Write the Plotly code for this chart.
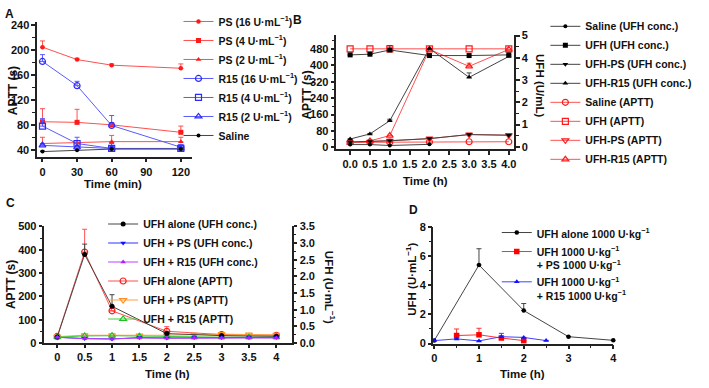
import plotly.graph_objects as go

W, H = 709, 388

def fx(p):
    return p / W

def fy(p):
    return 1 - p / H

# ---------------- Panel A ----------------
a_time = [0, 30, 60, 120]
a_ps16 = [205, 185, 176, 171]
a_ps16_err = [10, 2, 2, 7]
a_ps4 = [85, 84, 80, 68]
a_ps4_err = [21, 21, 3, 10]
a_ps2 = [50, 51, 53, 53]
a_ps2_err = [10, 3, 10, 7]
a_r15_16 = [182, 143, 79, 44]
a_r15_16_err = [11, 7, 16, 3]
a_r15_4 = [78, 50, 42, 42]
a_r15_4_err = [12, 10, 8, 6]
a_r15_2 = [47, 44, 42, 42]
a_r15_2_err = [3, 3, 3, 6]
a_saline = [37, 39, 41, 41]
a_saline_err = [1, 1, 1, 1]

# ---------------- Panel B ----------------
b_time = [0, 0.5, 1, 2, 3, 4]
b_time_sal = [0, 0.5, 1, 2]
b_sal_conc = [0.1, 0.1, 0.06, 0.11]
b_ufh_conc = [4.13, 4.16, 4.35, 4.1, 4.1, 4.13]
b_ufh_conc_err = [0, 0, 0.2, 0, 0, 0]
b_ps_conc = [0.22, 0.24, 0.27, 0.37, 0.55, 0.52]
b_ps_conc_err = [0, 0, 0, 0, 0.05, 0]
b_r15_conc = [0.35, 0.58, 1.17, 4.42, 3.12, 4.06]
b_r15_conc_err = [0, 0.02, 0.07, 0, 0.2, 0]
b_sal_aptt = [25, 25, 26, 27, 28, 28]
b_ufh_aptt = [480, 480, 480, 480, 480, 480]
b_ps_aptt = [24, 28, 32, 43, 63, 60]
b_r15_aptt = [22, 32, 58, 477, 395, 477]
b_r15_aptt_err = [0, 0, 0, 0, 15, 0]

# ---------------- Panel C ----------------
c_time = [0, 0.5, 1, 2, 3, 4]
c_time_full = [0, 0.5, 1, 1.5, 2, 2.5, 3, 3.5, 4]
c_alone_conc = [0.18, 2.66, 1.10, 0.28, 0.22, 0.2]
c_alone_conc_err = [0, 0.31, 0.35, 0.05, 0, 0]
c_ps_conc = [0.17, 0.13, 0.12, 0.16, 0.15, 0.16, 0.16, 0.16, 0.16]
c_r15_conc = [0.17, 0.13, 0.12, 0.15, 0.14, 0.15, 0.15, 0.15, 0.15]
c_alone_aptt = [28, 390, 138, 50, 36, 33]
c_alone_aptt_err = [0, 98, 0, 20, 0, 0]
c_ps_aptt = [27, 33, 33, 32, 33, 35, 38, 36, 35]
c_r15_aptt = [25, 30, 31, 29, 28, 25, 25, 25, 25]
c_xtick_vals = [0, 0.5, 1, 1.5, 2, 2.5, 3, 3.5, 4]
c_xtick_text = ["0", "0.5", "1", "1.5", "2", "2.5", "3", "3.5", "4"]

# ---------------- Panel D ----------------
d_time_alone = [0, 1, 2, 3, 4]
d_alone = [0.2, 5.4, 2.27, 0.47, 0.22]
d_alone_err = [0, 1.12, 0.48, 0, 0]
d_time_ps = [0.5, 1, 1.5, 2]
d_ps = [0.55, 0.6, 0.38, 0.2]
d_ps_err = [0.45, 0.45, 0, 0]
d_time_r15 = [0, 0.5, 1, 1.5, 2, 2.5]
d_r15 = [0.2, 0.32, 0.18, 0.47, 0.42, 0.2]
d_r15_err = [0, 0, 0, 0.23, 0, 0]

RED_L = "#ff5050"
RED_M = "#ff1a1a"
BLUE_L = "#5a5aff"
BLUE_M = "#2a2aff"
BLACK_L = "#444444"

fig = go.Figure()


def add(x, y, name, xa, ya, legend, lcolor, mcolor, symbol, size=5, err=None,
        open_=False, ecolor=None):
    if open_:
        marker = dict(symbol=symbol + "-open", size=size, color=mcolor,
                      line=dict(color=mcolor, width=1.2))
    else:
        marker = dict(symbol=symbol, size=size, color=mcolor, line=dict(width=0))
    tr = go.Scatter(x=x, y=y, name=name, mode="lines+markers", xaxis=xa, yaxis=ya,
                    legend=legend, line=dict(color=lcolor, width=1), marker=marker,
                    cliponaxis=False)
    if err is not None:
        tr.error_y = dict(type="data", array=err, arrayminus=[0] * len(err),
                          symmetric=False, color=ecolor or lcolor, thickness=1, width=2.5)
    fig.add_trace(tr)


U = "U·mL<sup>−1</sup>"
K = "U·kg<sup>−1</sup>"

# Panel A traces
add(a_time, a_ps16, f"PS (16 {U})", "x", "y", "legend", RED_L, RED_M, "circle", 4.5, a_ps16_err)
add(a_time, a_ps4, f"PS (4 {U})", "x", "y", "legend", RED_L, RED_M, "square", 5, a_ps4_err)
add(a_time, a_ps2, f"PS (2 {U})", "x", "y", "legend", RED_L, RED_M, "triangle-up", 5, a_ps2_err)
add(a_time, a_r15_16, f"R15 (16 {U})", "x", "y", "legend", BLUE_L, BLUE_M, "circle", 6, a_r15_16_err, open_=True)
add(a_time, a_r15_4, f"R15 (4 {U})", "x", "y", "legend", BLUE_L, BLUE_M, "square", 6, a_r15_4_err, open_=True)
add(a_time, a_r15_2, f"R15 (2 {U})", "x", "y", "legend", BLUE_L, BLUE_M, "triangle-up", 6, a_r15_2_err, open_=True)
add(a_time, a_saline, "Saline", "x", "y", "legend", BLACK_L, "#000000", "circle", 4, a_saline_err)

# Panel B traces
add(b_time_sal, b_sal_conc, "Saline (UFH conc.)", "x2", "y3", "legend2", BLACK_L, "#000", "circle", 4)
add(b_time, b_ufh_conc, "UFH (UFH conc.)", "x2", "y3", "legend2", BLACK_L, "#000", "square", 5, b_ufh_conc_err)
add(b_time, b_ps_conc, "UFH-PS (UFH conc.)", "x2", "y3", "legend2", BLACK_L, "#000", "triangle-down", 5, b_ps_conc_err)
add(b_time, b_r15_conc, "UFH-R15 (UFH conc.)", "x2", "y3", "legend2", BLACK_L, "#000", "triangle-up", 5, b_r15_conc_err)
add(b_time, b_sal_aptt, "Saline (APTT)", "x2", "y2", "legend2", RED_L, RED_M, "circle", 6, open_=True)
add(b_time, b_ufh_aptt, "UFH (APTT)", "x2", "y2", "legend2", RED_L, RED_M, "square", 6, open_=True)
add(b_time, b_ps_aptt, "UFH-PS (APTT)", "x2", "y2", "legend2", RED_L, RED_M, "triangle-down", 6, open_=True)
add(b_time, b_r15_aptt, "UFH-R15 (APTT)", "x2", "y2", "legend2", RED_L, RED_M, "triangle-up", 6, b_r15_aptt_err, open_=True)

# Panel C traces
add(c_time, c_alone_conc, "UFH alone (UFH conc.)", "x3", "y5", "legend3", BLACK_L, "#000", "circle", 5, c_alone_conc_err)
add(c_time_full, c_ps_conc, "UFH + PS (UFH conc.)", "x3", "y5", "legend3", "#3030ff", "#1010ff", "triangle-down", 5)
add(c_time_full, c_r15_conc, "UFH + R15 (UFH conc.)", "x3", "y5", "legend3", "#c040ff", "#b020ff", "triangle-up", 5)
add(c_time, c_alone_aptt, "UFH alone (APTT)", "x3", "y4", "legend3", RED_L, RED_M, "circle", 6, c_alone_aptt_err, open_=True)
add(c_time_full, c_ps_aptt, "UFH + PS (APTT)", "x3", "y4", "legend3", "#ffa040", "#ff9020", "triangle-down", 6, open_=True)
add(c_time_full, c_r15_aptt, "UFH + R15 (APTT)", "x3", "y4", "legend3", "#40d040", "#20c020", "triangle-up", 6, open_=True)

# Panel D traces
add(d_time_alone, d_alone, f"UFH alone 1000 {K}", "x4", "y6", "legend4", BLACK_L, "#000", "circle", 4.5, d_alone_err)
add(d_time_ps, d_ps, f"UFH 1000 {K}<br>+ PS 1000 {K}", "x4", "y6", "legend4", "#ff3030", "#ff0000", "square", 5.5, d_ps_err)
add(d_time_r15, d_r15, f"UFH 1000 {K}<br>+ R15 1000 {K}", "x4", "y6", "legend4", "#4040ff", "#1010ff", "triangle-up", 5, d_r15_err)

AX = dict(showline=True, linecolor="#222", linewidth=1.5, ticks="outside", ticklen=3.5,
          tickwidth=1.5, tickcolor="#222", showgrid=False, zeroline=False,
          ticklabeloverflow="allow",
          tickfont=dict(size=11, family="Liberation Sans", weight="bold", color="#111"))
MIN = dict(ticks="outside", ticklen=2.5, tickcolor="#222", tickwidth=1, showgrid=False)

fig.update_layout(
    width=W, height=H, margin=dict(l=0, r=0, t=0, b=0),
    paper_bgcolor="white", plot_bgcolor="rgba(0,0,0,0)",
    font=dict(family="Liberation Sans", size=11, color="#111", weight="bold"),
    xaxis=dict(AX, domain=[fx(35), fx(192)], range=[-5, 130], tickmode="linear", tick0=0, dtick=30,
               anchor="y"),
    yaxis=dict(AX, domain=[fy(156), fy(16.8)], range=[28, 245], tickmode="linear", tick0=0, dtick=40,
               minor=dict(MIN, dtick=20, tick0=0), anchor="x"),
    xaxis2=dict(AX, domain=[fx(336.7), fx(516.7)], range=[-0.36, 4.14],
                tickmode="linear", tick0=0, dtick=0.5, tickformat=".1f", anchor="y2"),
    yaxis2=dict(AX, domain=[fy(148), fy(30)], range=[-9.4, 547], tick0=0, dtick=80,
                minor=dict(MIN, dtick=40, tick0=0), anchor="x2"),
    yaxis3=dict(AX, overlaying="y2", side="right", range=[-0.117, 5.02], tick0=0, dtick=1,
                minor=dict(MIN, dtick=0.5, tick0=0), anchor="x2"),
    xaxis3=dict(AX, domain=[fx(42.3), fx(292.7)], range=[-0.243, 4.29],
                tickvals=c_xtick_vals, ticktext=c_xtick_text, anchor="y4"),
    yaxis4=dict(AX, domain=[fy(347.7), fy(227.5)], range=[0, 500], tick0=0, dtick=100,
                minor=dict(MIN, dtick=50, tick0=0), anchor="x3"),
    yaxis5=dict(AX, overlaying="y4", side="right", range=[0, 3.5], tick0=0, dtick=0.5, tickformat=".1f",
                minor=dict(MIN, dtick=0.25, tick0=0), anchor="x3"),
    xaxis4=dict(AX, domain=[fx(435), fx(616.5)], range=[-0.02, 4.0], tick0=0, dtick=1,
                minor=dict(MIN, dtick=0.5, tick0=0), anchor="y6"),
    yaxis6=dict(AX, domain=[fy(348.3), fy(228.3)], range=[0, 8], tick0=0, dtick=2,
                minor=dict(MIN, dtick=1, tick0=0), anchor="x4"),
    legend=dict(x=fx(178), y=fy(1), xanchor="left", yanchor="top", bgcolor="rgba(0,0,0,0)",
                font=dict(size=10.5), tracegroupgap=0),
    legend2=dict(x=fx(548), y=fy(6), xanchor="left", yanchor="top", bgcolor="rgba(0,0,0,0)",
                 font=dict(size=10.5), tracegroupgap=0),
    legend3=dict(x=fx(102), y=fy(210), xanchor="left", yanchor="top", bgcolor="rgba(0,0,0,0)",
                 font=dict(size=10.5), tracegroupgap=0),
    legend4=dict(x=fx(499), y=fy(220), xanchor="left", yanchor="top", bgcolor="rgba(0,0,0,0)",
                 font=dict(size=10.5), tracegroupgap=0, valign="top"),
)


def ann(text, x, y, angle=0, size=11.5):
    fig.add_annotation(text=text, x=fx(x), y=fy(y), xref="paper", yref="paper",
                       showarrow=False, textangle=angle, xanchor="center", yanchor="middle",
                       font=dict(size=size, family="Liberation Sans", weight="bold", color="#111"))


# axis titles
ann("APTT (s)", 11, 87, -90, 12)
ann("Time (min)", 112, 184)
ann("APTT (s)", 308, 92, -90, 12)
ann("UFH (U/mL)", 542, 82, 90)
ann("Time (h)", 427, 181)
ann("APTT (s)", 9, 287, -90, 12)
ann(f"UFH ({U})", 331, 290, 90)
ann("Time (h)", 167, 380)
ann(f"UFH ({U})", 413, 282, -90)
ann("Time (h)", 525, 380)

# panel letters
ann("A", 8, 8, 0, 12)
ann("B", 298, 14, 0, 12)
ann("C", 9, 203, 0, 12)
ann("D", 415, 211, 0, 12)

fig.write_html("out.html", config={"displayModeBar": False},
               post_script="document.body.style.margin='0';document.body.style.overflow='hidden';")
